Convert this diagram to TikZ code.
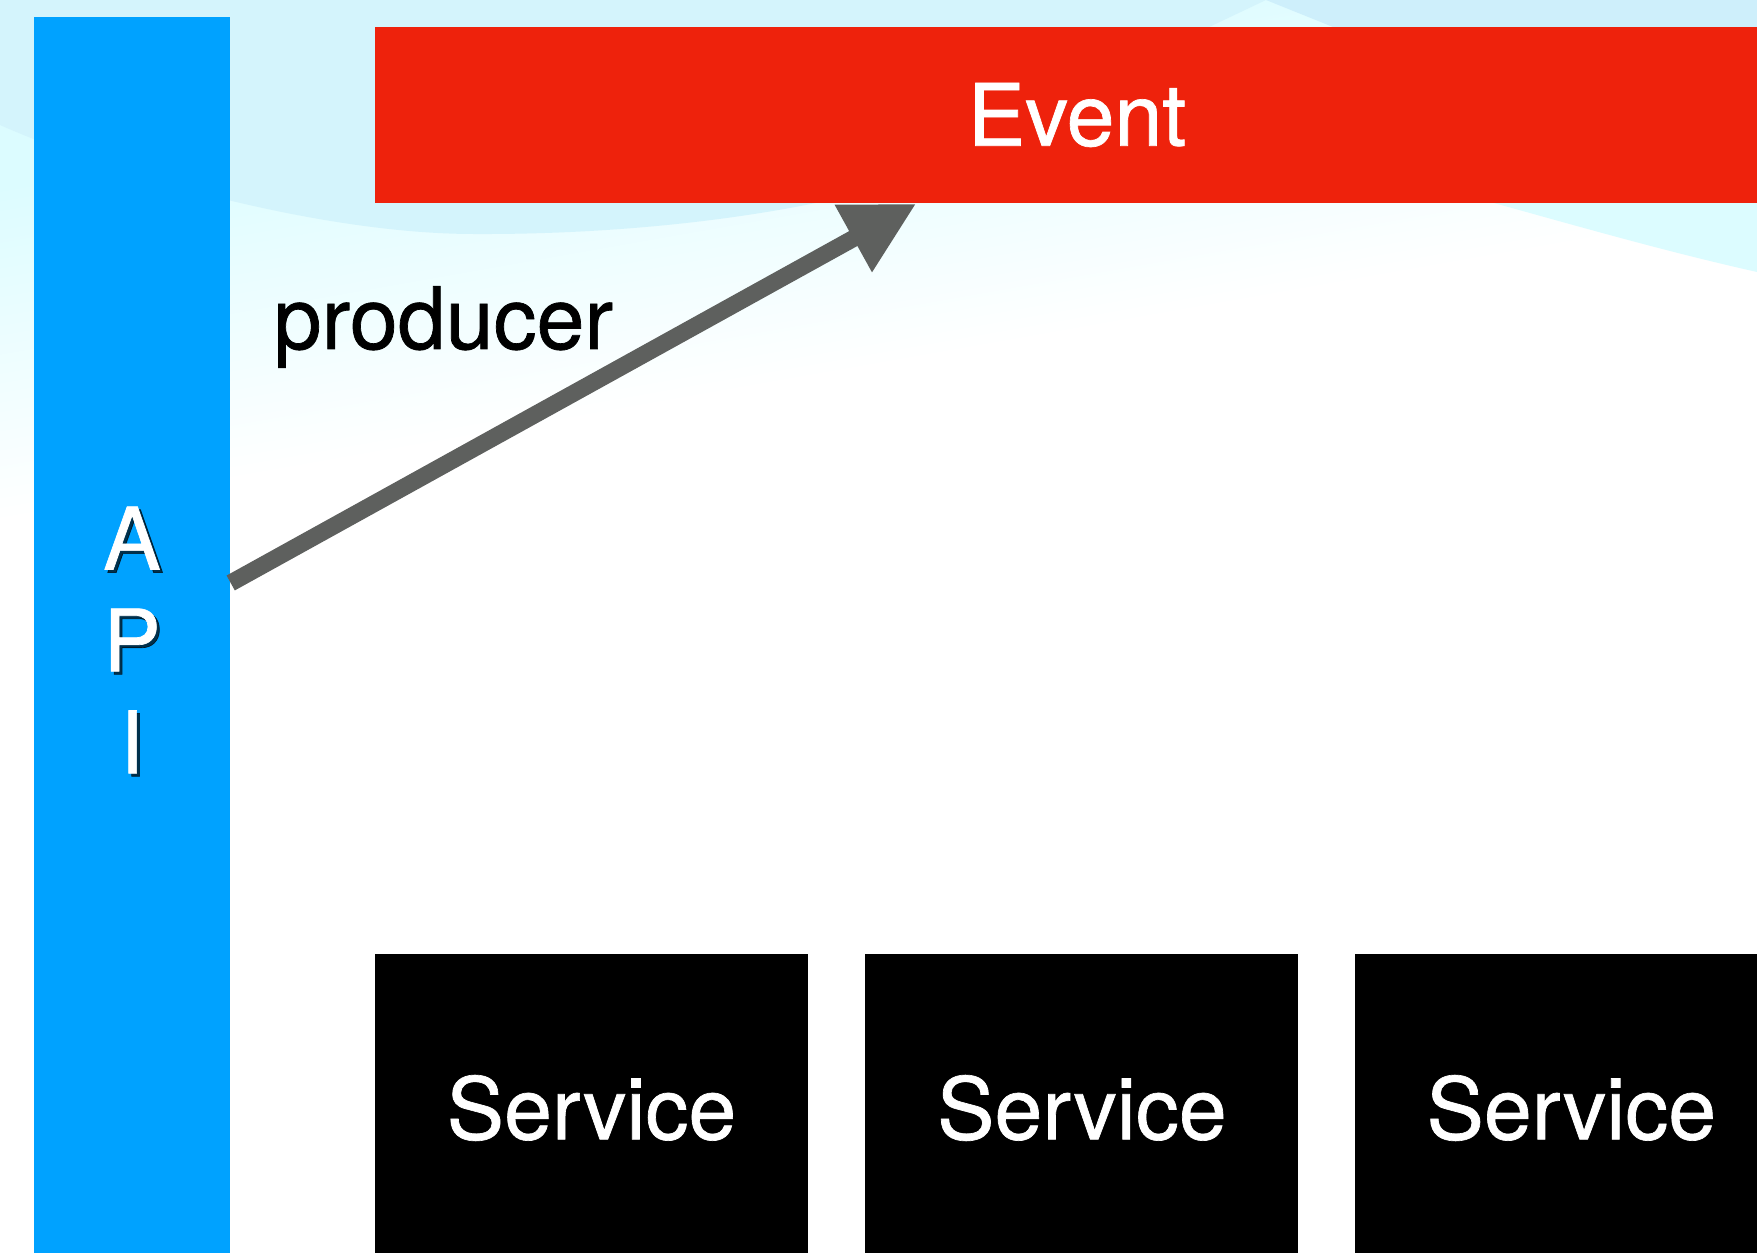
\documentclass[tikz,border=0pt]{standalone}
\usepackage{fontspec}
\setmainfont{TeX Gyre Heros}[FakeBold=0.8]
\usetikzlibrary{arrows.meta, positioning}

\definecolor{apiblue}{RGB}{0,162,255}
\definecolor{eventred}{RGB}{238,34,12}
\definecolor{arrowgray}{RGB}{94,96,94}
\definecolor{skydark}{RGB}{212,244,252}
\definecolor{skytop}{RGB}{206,239,251}
\definecolor{skylight}{RGB}{220,252,255}

\tikzset{
	bar/.style={rectangle, inner sep=0, text=white, font=\fontsize{24.5}{29}\selectfont},
	apibar/.style={bar, fill=apiblue, minimum width=1.96cm, minimum height=12.36cm},
	eventbar/.style={bar, fill=eventred, minimum width=14.04cm, minimum height=1.76cm},
	service/.style={bar, fill=black, minimum width=4.33cm, minimum height=3.08cm},
	apiletters/.style={align=center, inner sep=0, text=white, font=\fontsize{24.5}{29}\selectfont},
	apishade/.style={apiletters, text=black, opacity=0.7},
	flow/.style={color=arrowgray, line width=0.17cm, -{Triangle[length=0.72cm,width=0.72cm]}}
}

\begin{document}
\begin{tikzpicture}
\useasboundingbox (0,0) rectangle (17.57,12.53);
\clip (0,0) rectangle (17.57,12.53);

% background
\fill [white] (0,0) rectangle (17.57,12.53);
\begin{scope}[transform canvas={rotate=10}]
\shade [top color=skylight, bottom color=white] (-5,7.2) rectangle (25,10.5);
\fill [skylight] (-5,10.49) rectangle (25,20);
\end{scope}
\fill [skylight] (14.5,10.62) .. controls (15.5,10.35) and (16.5,10.05) .. (17.57,9.81) -- (17.57,12.53) -- (14.5,12.53) -- cycle;
\fill [skydark] (0,12.53) -- (0,11.28) .. controls (1.2,10.75) and (3.2,10.2) .. (4.7,10.19) .. controls (6.2,10.18) and (7.6,10.35) .. (8.6,10.6) -- (12.66,12.53) -- cycle;
\fill [skytop] (12.66,12.53) -- (13.33,12.26) -- (14.2,11.9) -- (17.57,11.9) -- (17.57,12.53) -- cycle;

% boxes
\node [apibar] (api) at (1.32,6.18) {};
\node [apishade] (apishadow) at ([shift={(0.03,-0.08)}]api.center) {A\\P\\I};
\node [apiletters] (apitext) at ([yshift=-0.5mm]api.center) {A\\P\\I};

\node [eventbar] (event) at (10.77,11.38) {Event};

\node [service] (s1) at (5.915,1.45) {Service};
\node [service, right=0.56cm of s1] (s2) {Service};
\node [service, right=0.55cm of s2] (s3) {Service};

% producer arrow
\draw [flow] ([yshift=5.2mm]api.east) -- ([xshift=5.42cm]event.south west);
\node [anchor=base west, inner sep=0, font=\fontsize{24.5}{29}\selectfont] (producer) at (2.73,9.04) {producer};

\end{tikzpicture}
\end{document}
